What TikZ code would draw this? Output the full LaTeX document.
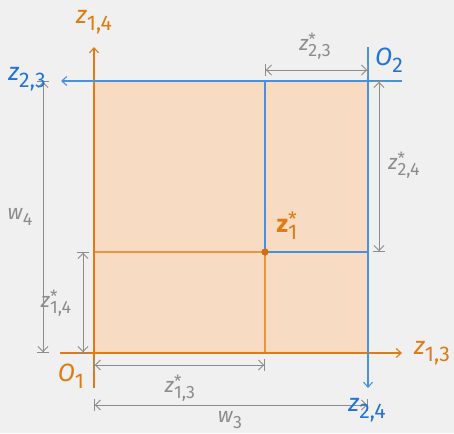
\documentclass[tikz,border=0pt]{standalone}
\usepackage{fontspec}
\setmainfont{Fira Sans}
\usetikzlibrary{arrows.meta,calc}
\definecolor{axorange}{HTML}{E07A12}
\definecolor{axblue}{HTML}{1F74D8}
\definecolor{lineblue}{HTML}{4A90DC}
\definecolor{dimgray}{HTML}{8C8C8C}
\definecolor{peach}{HTML}{F7DCC3}
\definecolor{paper}{HTML}{F0F0F0}
\newcommand{\axlab}[2]{\textit{#1}\raisebox{-.55ex}{\scalebox{.85}{#2}}}
\newcommand{\optlab}[2]{\textit{#1}\rlap{\raisebox{.45ex}{\scalebox{.8}{*}}}\raisebox{-.55ex}{\scalebox{.85}{#2}}}
\newcommand{\ptlab}[2]{\textbf{#1}\rlap{\raisebox{.45ex}{\scalebox{.8}{*}}}\raisebox{-.55ex}{\scalebox{.85}{#2}}}

\begin{document}
\begin{tikzpicture}[x=1pt,y=1pt,
  axis/.style={line width=1.4pt,-{Straight Barb[length=5pt,width=9pt,line width=1.1pt]}},
  axis1/.style={axis,draw=axorange},
  axis2/.style={axis,draw=lineblue},
  grid1/.style={draw=axorange!80,line width=1.3pt},
  grid2/.style={draw=lineblue,line width=1.3pt},
  dim/.style={draw=dimgray,line width=.9pt,
    {Bar[width=12pt]Straight Barb[length=5pt,width=10pt]}-{Straight Barb[length=5pt,width=10pt]Bar[width=12pt]}},
  biglab/.style={font=\fontsize{25}{27}\selectfont,inner sep=0pt},
  orangelab/.style={biglab,text=axorange},
  bluelab/.style={biglab,text=axblue},
  dimlab/.style={font=\fontsize{21}{23}\selectfont,inner sep=0pt,text=dimgray}
]
\path[use as bounding box] (0,0) rectangle (454,-433);
\fill[paper] (0,0) rectangle (454,-433);

\coordinate (O1) at (94,-353);
\coordinate (O2) at (368,-81);
\coordinate (P) at (265,-252);

% feasible box and the optimum
\fill[peach] (O1) rectangle (O2);
\draw[grid1] (O1|-P) -- (P) -- (P|-O1);
\draw[grid2] (P|-O2) -- (P) -- (O2|-P);

% first frame
\draw[axis1] ($(O1)+(-34,0)$) coordinate (x1s) -- ($(O1)+(308,0)$) coordinate (x1e);
\draw[axis1] ($(O1)+(0,-35)$) coordinate (y1s) -- ($(O1)+(0,306)$) coordinate (y1e);
% second frame
\draw[axis2] ($(O2)+(34,0)$) coordinate (x2s) -- ($(O2)+(-307,0)$) coordinate (x2e);
\draw[axis2] ($(O2)+(0,34)$) coordinate (y2s) -- ($(O2)+(0,-307)$) coordinate (y2e);

\fill[axorange!92!black] (P) circle (3.6pt);

% dimensions
\draw[dim] ($(P|-O2)+(0,11)$) -- ($(O2)+(0,11)$);
\draw[dim] ($(O2)+(11,0)$) -- ($(O2|-P)+(11,0)$);
\draw[dim] ($(O1|-O2)+(-51,0)$) -- ($(O1)+(-51,0)$);
\draw[dim] ($(O1|-P)+(-11,0)$) -- ($(O1)+(-11,0)$);
\draw[dim] ($(O1)+(0,-12)$) -- ($(P|-O1)+(0,-12)$);
\draw[dim] ($(O1)+(0,-52)$) -- ($(O2|-O1)+(0,-52)$);

\node[orangelab] (z14) at (94,-22) {\axlab{z}{1,4}};
\node[orangelab] (z13) at (432,-353) {\axlab{z}{1,3}};
\node[orangelab] (o1) at (71,-376) {\axlab{O}{1}};
\node[bluelab] (z23) at (27,-79) {\axlab{z}{2,3}};
\node[bluelab] (z24) at (367,-410) {\axlab{z}{2,4}};
\node[bluelab] (o2) at (389,-60) {\axlab{O}{2}};
\node[orangelab] (zopt) at (287,-226) {\ptlab{z}{1}};

\node[dimlab] (d23) at (315,-46) {\optlab{z}{2,3}};
\node[dimlab] (d24) at (404,-165) {\optlab{z}{2,4}};
\node[dimlab] (w4) at (20,-217) {\axlab{w}{4}};
\node[dimlab] (d14) at (56,-303) {\optlab{z}{1,4}};
\node[dimlab] (d13) at (180,-388) {\optlab{z}{1,3}};
\node[dimlab] (w3) at (230,-420) {\axlab{w}{3}};
\end{tikzpicture}
\end{document}
